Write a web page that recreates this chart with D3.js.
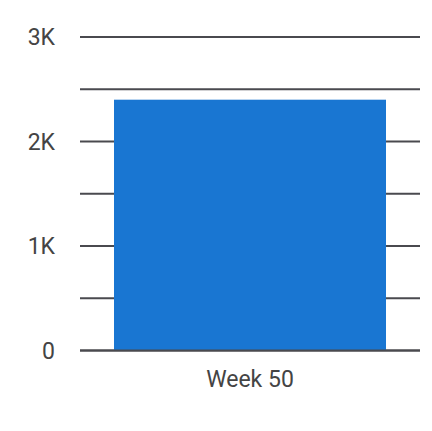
<!DOCTYPE html>
<html>
<head>
  <script src="https://d3js.org/d3.v7.min.js"></script>
  <style>
    body { margin: 0; background: #fff; }
    text { font-family: Roboto, sans-serif; fill: #444; }
  </style>
</head>
<body>
<div id="chart"></div>
<script>
  var categories = ["Week 50"];
  var values = [2400];
  var gridTicks = [0, 500, 1000, 1500, 2000, 2500, 3000];
  var labelTicks = [0, 1000, 2000, 3000];

  var width = 432, height = 431;

  var svg = d3.select("#chart").append("svg")
    .attr("width", width)
    .attr("height", height);

  var xScale = d3.scaleBand()
    .domain(categories)
    .range([80, 420])
    .paddingInner(0)
    .paddingOuter(0.125);

  var yScale = d3.scaleLinear()
    .domain([0, 3000])
    .range([350.5, 37]);

  var fmt = function(d) { return d === 0 ? "0" : (d / 1000) + "K"; };

  // gridlines
  svg.selectAll(".grid")
    .data(gridTicks)
    .enter().append("line")
    .attr("x1", 80)
    .attr("x2", 420)
    .attr("y1", function(d) { return yScale(d); })
    .attr("y2", function(d) { return yScale(d); })
    .attr("stroke", "#4a4a4f")
    .attr("stroke-width", 2);

  // bars
  svg.selectAll(".bar")
    .data(values)
    .enter().append("rect")
    .attr("x", function(d, i) { return xScale(categories[i]); })
    .attr("width", xScale.bandwidth())
    .attr("y", function(d) { return yScale(d); })
    .attr("height", function(d) { return yScale(0) - yScale(d); })
    .attr("fill", "#1976d2");

  // baseline on top
  svg.append("line")
    .attr("x1", 80).attr("x2", 420)
    .attr("y1", yScale(0)).attr("y2", yScale(0))
    .attr("stroke", "#4a4a4f")
    .attr("stroke-width", 2);

  // y labels
  svg.selectAll(".ylab")
    .data(labelTicks)
    .enter().append("text")
    .attr("x", 55)
    .attr("y", function(d) { return yScale(d); })
    .attr("dy", "0.35em")
    .attr("text-anchor", "end")
    .style("font-size", "23px")
    .text(fmt);

  // x labels
  svg.selectAll(".xlab")
    .data(categories)
    .enter().append("text")
    .attr("x", function(d) { return xScale(d) + xScale.bandwidth() / 2; })
    .attr("y", 379)
    .attr("dy", "0.35em")
    .attr("text-anchor", "middle")
    .style("font-size", "23px")
    .text(function(d) { return d; });
</script>
</body>
</html>
